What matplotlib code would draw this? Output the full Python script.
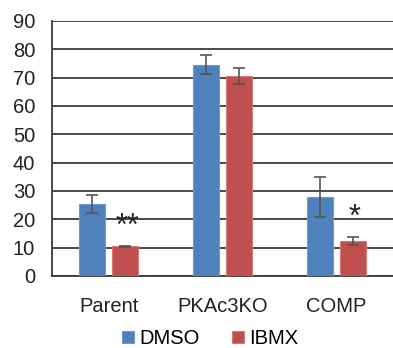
import numpy as np
import matplotlib.pyplot as plt

plt.rcParams['font.family'] = ['Liberation Sans', 'DejaVu Sans']

categories = ['Parent', 'PKAc3KO', 'COMP']
dmso = [25.4, 74.6, 27.8]
dmso_err = [3.3, 3.2, 7.0]
ibmx = [10.4, 70.6, 12.4]
ibmx_err = [0.3, 2.8, 1.5]
stars = ['**', '', '*']

blue = '#4F81BD'
red = '#C0504D'

fig = plt.figure(figsize=(3.93, 3.48), dpi=100)
ax = fig.add_axes([0.132, 0.207, 0.868, 0.733])

x = np.arange(len(categories))
w = 0.23
off = 0.145
ax.bar(x - off, dmso, w, color=blue, edgecolor='#6E9AD0', linewidth=0.8, zorder=3,
       yerr=dmso_err, error_kw=dict(ecolor='#555555', elinewidth=1.2, capsize=4, capthick=1.2),
       label='DMSO')
ax.bar(x + off, ibmx, w, color=red, edgecolor='#D57A78', linewidth=0.8, zorder=3,
       yerr=ibmx_err, error_kw=dict(ecolor='#555555', elinewidth=1.2, capsize=4, capthick=1.2),
       label='IBMX')

# significance marks above the IBMX bars
for i, s in enumerate(stars):
    if s:
        ax.text(x[i] + off + 0.02, ibmx[i] + ibmx_err[i] + 6.5, s, ha='center', va='center',
                fontsize=22, color='#222222')

ax.set_xlim(-0.5, 2.5)
ax.set_ylim(0, 90)
ax.set_yticks(range(0, 91, 10))
ax.yaxis.grid(True, color='#3a3a3a', linewidth=1.3, zorder=0)
ax.set_axisbelow(True)
for sp in ['top', 'right']:
    ax.spines[sp].set_visible(False)
ax.spines['left'].set_color('#3a3a3a')
ax.spines['left'].set_linewidth(1.3)
ax.spines['bottom'].set_color('#3a3a3a')
ax.spines['bottom'].set_linewidth(1.3)
ax.tick_params(axis='both', length=0, labelsize=14.5, colors='#222222')
ax.tick_params(axis='y', pad=12)
ax.tick_params(axis='x', pad=15)
ax.set_xticks(x)
ax.set_xticklabels(categories)

fig.legend(loc='center', bbox_to_anchor=(0.535, 0.027), ncol=2, frameon=False,
           fontsize=14.5, handlelength=0.6, handleheight=0.6, handletextpad=0.25,
           columnspacing=1.6, borderaxespad=0)

fig.savefig('out.png', dpi=100, facecolor='white')
